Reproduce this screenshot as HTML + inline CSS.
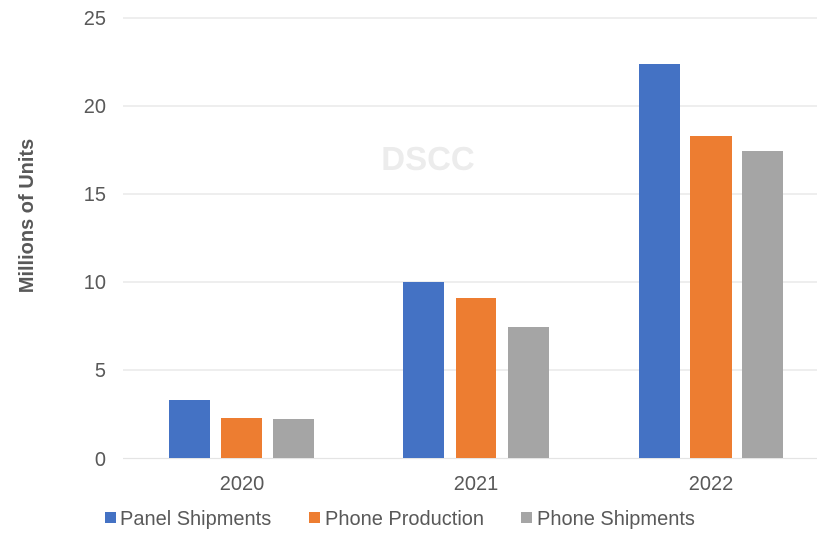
<!DOCTYPE html>
<html><head><style>body{margin:0;background:#fff}</style></head><body>
<svg width="817" height="532" xmlns="http://www.w3.org/2000/svg" font-family="Liberation Sans, sans-serif">
<rect width="817" height="532" fill="#fff"/>
<g stroke="#e4e4e4" stroke-width="1.3">
<line x1="123" x2="817" y1="18" y2="18"/><line x1="123" x2="817" y1="106" y2="106"/>
<line x1="123" x2="817" y1="194" y2="194"/><line x1="123" x2="817" y1="282" y2="282"/>
<line x1="123" x2="817" y1="370" y2="370"/><line x1="123" x2="817" y1="458.5" y2="458.5"/>
</g>
<text x="428" y="170" font-size="33" font-weight="bold" fill="#ececec" text-anchor="middle">DSCC</text>
<g font-size="20" fill="#595959" text-anchor="end">
<text x="106" y="25">25</text><text x="106" y="113">20</text><text x="106" y="201">15</text>
<text x="106" y="289">10</text><text x="106" y="377">5</text><text x="106" y="466">0</text>
</g>
<text transform="translate(33,216) rotate(-90)" font-size="20" font-weight="bold" fill="#595959" text-anchor="middle">Millions of Units</text>
<g fill="#4472c4"><rect x="169" y="400" width="41" height="58"/><rect x="403" y="282" width="41" height="176"/><rect x="639" y="64" width="41" height="394"/></g>
<g fill="#ed7d31"><rect x="221" y="418" width="41" height="40"/><rect x="456" y="298" width="40" height="160"/><rect x="690" y="136" width="42" height="322"/></g>
<g fill="#a5a5a5"><rect x="273" y="419" width="41" height="39"/><rect x="508" y="327" width="41" height="131"/><rect x="742" y="151" width="41" height="307"/></g>
<g font-size="20" fill="#595959" text-anchor="middle">
<text x="242" y="490">2020</text><text x="476" y="490">2021</text><text x="711" y="490">2022</text>
</g>
<g font-size="20" fill="#595959">
<rect x="105" y="512" width="11" height="11" fill="#4472c4"/><text x="120" y="525">Panel Shipments</text>
<rect x="309" y="512" width="11" height="11" fill="#ed7d31"/><text x="325" y="525">Phone Production</text>
<rect x="521" y="512" width="11" height="11" fill="#a5a5a5"/><text x="537" y="525">Phone Shipments</text>
</g>
</svg>
</body></html>
